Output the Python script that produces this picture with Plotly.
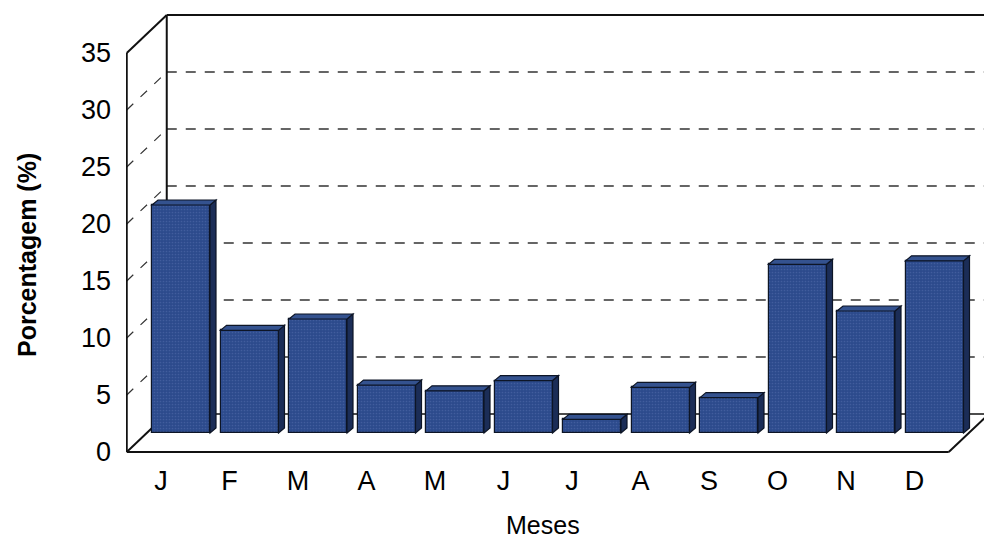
import plotly.graph_objects as go

# Monthly share (%) of the yearly total
meses = ["J", "F", "M", "A", "M", "J", "J", "A", "S", "O", "N", "D"]
percentagem = [20.0, 9.0, 10.0, 4.2, 3.7, 4.6, 1.2, 4.0, 3.1, 14.8, 10.7, 15.1]
y_ticks = [0, 5, 10, 15, 20, 25, 30, 35]

# ---- pseudo-3D geometry (pixels) ----
W, H = 984, 544
L, R, T, B = 126, 984, 10, 454          # plot area edges
CAT_PX = 68.5                           # pixels per category
UNIT_PX = 11.4                          # pixels per percentage point
X0_PX, Y0_PX = 181, 433                 # pixel position of category 0 / value 0 (bar plane)
DX = 20 / CAT_PX                        # half-depth of the box, in category units
DY = 19 / UNIT_PX                       # half-depth of the box, in value units
BAR_W = 58 / CAT_PX                     # bar width
BX = 6 / CAT_PX                         # bar depth (x)
BY = 5 / UNIT_PX                        # bar depth (y)
YMAX = 35
XL, XR = -0.5, len(meses) - 0.5

x_range = [(L - X0_PX) / CAT_PX, (R - X0_PX) / CAT_PX]
y_range = [(Y0_PX - B) / UNIT_PX, (Y0_PX - T) / UNIT_PX]

FRONT = "#2c4a8c"
SIDE = "#1b2d57"
TOP = "#34528f"
EDGE = "#0d1526"

fig = go.Figure()

fig.add_trace(go.Bar(
    x=list(range(len(meses))), y=percentagem, width=BAR_W,
    marker=dict(color=FRONT, line=dict(color=EDGE, width=1.2),
                pattern=dict(shape=".", size=3, solidity=0.25,
                             fgcolor="#5670ad", bgcolor=FRONT)),
    hoverinfo="skip", showlegend=False,
))
# carrier trace for the front-plane axes
fig.add_trace(go.Scatter(x=[None], y=[None], xaxis="x2", yaxis="y2",
                         showlegend=False, hoverinfo="skip"))

shapes = []


def line(x0, y0, x1, y1, width=1.5, color="#111", dash=None, layer="below"):
    d = dict(type="line", xref="x", yref="y", x0=x0, y0=y0, x1=x1, y1=y1,
             line=dict(color=color, width=width), layer=layer)
    if dash:
        d["line"]["dash"] = dash
    shapes.append(d)


def poly(pts, fill, layer="above"):
    path = "M " + " L ".join(f"{x},{y}" for x, y in pts) + " Z"
    shapes.append(dict(type="path", xref="x", yref="y", path=path,
                       fillcolor=fill, line=dict(color=EDGE, width=1.2),
                       layer=layer))


# back-wall and side-wall dashed gridlines
for v in y_ticks[1:-1]:
    line(XL + DX, v + DY, XR + DX, v + DY, width=1.6, color="#333", dash="10px,9px")
    line(XL - DX, v - DY, XL + DX, v + DY, width=1.2, color="#333", dash="9px,10px")

# box outline
line(XL - DX, -DY, XL - DX, YMAX - DY, width=2)             # front-left edge
line(XL - DX, YMAX - DY, XL + DX, YMAX + DY, width=2)       # top-left diagonal
line(XL + DX, DY, XL + DX, YMAX + DY, width=2)              # back-left edge
line(XL + DX, YMAX + DY, XR + DX, YMAX + DY, width=2)       # back top edge
line(XL + DX, DY, XR + DX, DY, width=1.3)                   # floor back edge
line(XL - DX, -DY, XL + DX, DY, width=2)                    # floor left edge
line(XR - DX, -DY, XR + DX, DY, width=2)                    # floor right edge
line(XL - DX, -DY, XR - DX, -DY, width=2.2)                 # floor front edge

# side and top faces of each bar
for i, v in enumerate(percentagem):
    x0, x1 = i - BAR_W / 2, i + BAR_W / 2
    poly([(x1, 0), (x1 + BX, BY), (x1 + BX, v + BY), (x1, v)], SIDE)
    poly([(x0, v), (x1, v), (x1 + BX, v + BY), (x0 + BX, v + BY)], TOP)

font_family = "Liberation Sans, Arial, sans-serif"

fig.update_layout(
    width=W, height=H,
    margin=dict(l=L, r=W - R, t=T, b=H - B),
    paper_bgcolor="white", plot_bgcolor="white",
    font=dict(family=font_family, color="black"),
    shapes=shapes,
    bargap=0,
    xaxis=dict(range=x_range, showgrid=False, zeroline=False, showticklabels=False,
               ticks="", showline=False, fixedrange=True),
    yaxis=dict(range=y_range, showgrid=False, zeroline=False, showticklabels=False,
               ticks="", showline=False, fixedrange=True),
    xaxis2=dict(overlaying="x", side="bottom", anchor="y2",
                range=[x_range[0] + DX, x_range[1] + DX],
                tickvals=list(range(len(meses))), ticktext=meses,
                tickfont=dict(size=27), ticks="", ticklabelstandoff=8,
                showgrid=False, zeroline=False, showline=False),
    yaxis2=dict(overlaying="y", side="left", anchor="x2",
                range=[y_range[0] + DY, y_range[1] + DY],
                tickvals=y_ticks, tickfont=dict(size=27), ticks="",
                ticklabelstandoff=14,
                showgrid=False, zeroline=False, showline=False),
    annotations=[
        dict(text="Meses", xref="paper", yref="paper",
             x=(543 - L) / (R - L), y=-(525 - B) / (B - T),
             xanchor="center", yanchor="middle", showarrow=False,
             font=dict(size=25)),
        dict(text="<b>Porcentagem (%)</b>", xref="paper", yref="paper",
             x=-(L - 27) / (R - L), y=(B - 255) / (B - T),
             xanchor="center", yanchor="middle", textangle=-90, showarrow=False,
             font=dict(size=25)),
    ],
)

fig.write_html("out.html")
